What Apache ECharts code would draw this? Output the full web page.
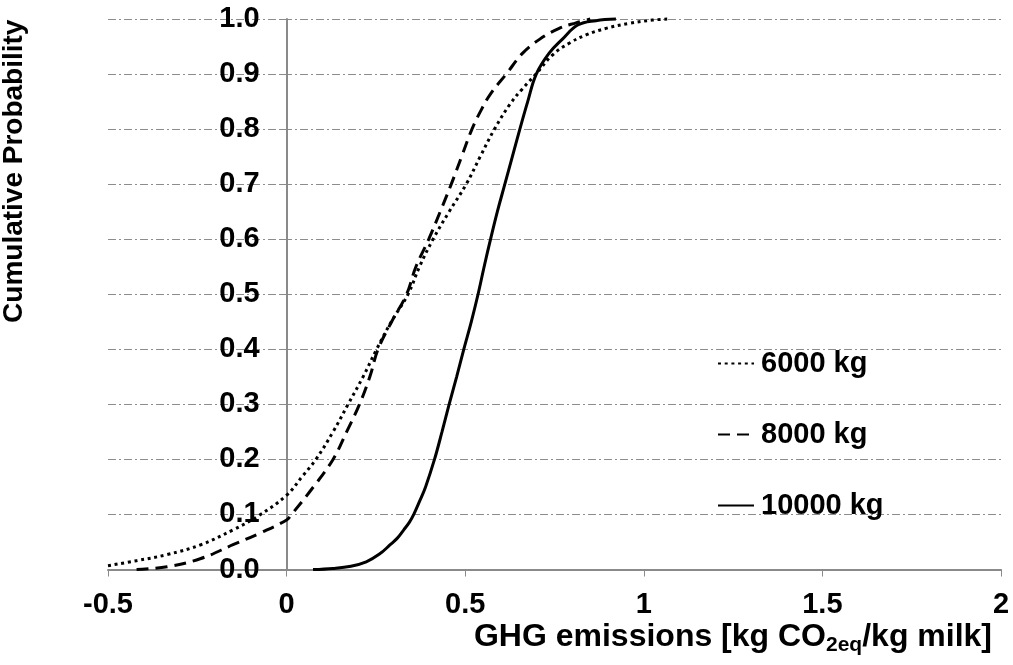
<!DOCTYPE html>
<html>
<head>
<meta charset="utf-8">
<script src="https://cdn.jsdelivr.net/npm/echarts@6/dist/echarts.min.js"></script>
<style>
html,body{margin:0;padding:0;background:#fff;}
#chart{width:1013px;height:665px;}
</style>
</head>
<body>
<div id="chart"></div>
<script>
// Series names
const seriesNames = ['6000 kg', '8000 kg', '10000 kg'];

// Cumulative distribution points [GHG emissions, cumulative probability]
const cdf6000 = [
  [-0.5,0.007],[-0.42,0.016],[-0.335,0.027],[-0.24,0.045],[-0.15,0.072],[-0.08,0.097],
  [0,0.135],[0.045,0.17],[0.082,0.2],[0.13,0.25],[0.172,0.3],[0.214,0.35],[0.252,0.4],
  [0.293,0.45],[0.34,0.5],[0.372,0.55],[0.41,0.6],[0.455,0.65],[0.503,0.7],[0.542,0.75],
  [0.582,0.8],[0.625,0.845],[0.66,0.873],[0.698,0.9],[0.745,0.935],[0.791,0.956],
  [0.838,0.971],[0.894,0.983],[0.959,0.992],[1.024,0.998],[1.07,1.0]
];
const cdf8000 = [
  [-0.42,0.0],[-0.335,0.005],[-0.24,0.02],[-0.15,0.045],[-0.075,0.066],[0,0.09],
  [0.014,0.1],[0.075,0.15],[0.13,0.2],[0.168,0.25],[0.204,0.3],[0.233,0.35],[0.256,0.4],
  [0.294,0.45],[0.336,0.5],[0.362,0.55],[0.398,0.6],[0.43,0.65],[0.461,0.7],[0.49,0.75],
  [0.519,0.8],[0.545,0.835],[0.572,0.865],[0.615,0.9],[0.661,0.938],[0.708,0.963],
  [0.763,0.983],[0.81,0.993],[0.85,1.0]
];
const cdf10000 = [
  [0.074,0.0],[0.13,0.002],[0.18,0.006],[0.223,0.014],[0.26,0.028],[0.29,0.045],
  [0.31,0.057],[0.328,0.072],[0.344,0.086],[0.356,0.1],[0.373,0.125],[0.389,0.15],
  [0.414,0.2],[0.435,0.25],[0.455,0.3],[0.476,0.35],[0.496,0.4],[0.517,0.45],[0.536,0.5],
  [0.553,0.55],[0.571,0.6],[0.59,0.65],[0.611,0.7],[0.632,0.75],[0.653,0.8],[0.675,0.85],
  [0.699,0.9],[0.735,0.938],[0.773,0.964],[0.815,0.989],[0.866,0.997],[0.922,1.0]
];

// Axis settings
const xRange = [-0.5, 2], xStep = 0.5;
const yRange = [0, 1], yStep = 0.1;
const xTitle = '{a|GHG emissions [kg CO}{s|2eq}{a|/kg milk]}';
const yTitle = 'Cumulative Probability';

const FONT = '"Liberation Sans", Arial, sans-serif';
const axisGrey = '#8a8a8a';

const GRID_LEFT = 108, GRID_RIGHT = 12;
const plotW = 1013 - GRID_LEFT - GRID_RIGHT;
// y axis crosses the x axis at x = 0
const yAxisShift = -plotW * (0 - xRange[0]) / (xRange[1] - xRange[0]);

const chart = echarts.init(document.getElementById('chart'), null, {renderer: 'canvas'});

const lineBase = {type: 'line', symbol: 'none', showSymbol: false, smooth: 0.4, clip: false};

chart.setOption({
  backgroundColor: '#ffffff',
  animation: false,
  textStyle: {fontFamily: FONT},
  grid: {left: GRID_LEFT, right: GRID_RIGHT, top: 19, bottom: 95.5, containLabel: false, outerBoundsMode: 'none'},
  xAxis: {
    type: 'value', min: xRange[0], max: xRange[1], interval: xStep,
    axisLine: {show: true, onZero: false, lineStyle: {color: axisGrey, width: 2}},
    axisTick: {show: true, length: 7, lineStyle: {color: axisGrey, width: 1}},
    axisLabel: {fontSize: 29, fontWeight: 'bold', color: '#000', margin: 21, fontFamily: FONT},
    splitLine: {show: false},
    name: xTitle,
    nameLocation: 'end',
    nameGap: -9,
    nameTextStyle: {
      align: 'right',
      verticalAlign: 'top',
      padding: [50, 0, 0, 0],
      rich: {
        a: {fontSize: 32, fontWeight: 'bold', color: '#000', fontFamily: FONT, lineHeight: 36},
        s: {fontSize: 21, fontWeight: 'bold', color: '#000', fontFamily: FONT, lineHeight: 15, verticalAlign: 'bottom'}
      }
    }
  },
  yAxis: {
    type: 'value', min: yRange[0], max: yRange[1], interval: yStep,
    offset: yAxisShift,
    axisLine: {show: true, onZero: false, lineStyle: {color: axisGrey, width: 2}},
    axisTick: {show: true, length: 6, lineStyle: {color: axisGrey, width: 1}},
    axisLabel: {fontSize: 29, fontWeight: 'bold', color: '#000', margin: 27, fontFamily: FONT,
      formatter: v => v.toFixed(1)},
    splitLine: {show: true, lineStyle: {color: '#8c8c8c', width: 1, type: [8, 3, 2, 3]}},
    name: yTitle,
    nameLocation: 'middle',
    nameRotate: 90,
    nameGap: 258,
    nameTextStyle: {fontSize: 28, fontWeight: 'bold', color: '#000', fontFamily: FONT, padding: [0, 0, 0, 246]}
  },
  legend: {
    orient: 'vertical', left: 717, top: 349, padding: 0,
    itemWidth: 36, itemHeight: 28, itemGap: 42,
    data: seriesNames,
    itemStyle: {opacity: 0},
    textStyle: {fontSize: 29, fontWeight: 'bold', color: '#000', fontFamily: FONT, lineHeight: 28, padding: [0, 0, 0, 2]}
  },
  series: [
    Object.assign({}, lineBase, {name: seriesNames[0], data: cdf6000,
      lineStyle: {color: '#000', width: 3, type: [3, 3.7], cap: 'butt'}, itemStyle: {color: '#000'}}),
    Object.assign({}, lineBase, {name: seriesNames[1], data: cdf8000,
      lineStyle: {color: '#000', width: 3, type: [12, 7], cap: 'butt'}, itemStyle: {color: '#000'}}),
    Object.assign({}, lineBase, {name: seriesNames[2], data: cdf10000,
      lineStyle: {color: '#000', width: 3, type: 'solid'}, itemStyle: {color: '#000'}})
  ]
});
</script>
</body>
</html>
